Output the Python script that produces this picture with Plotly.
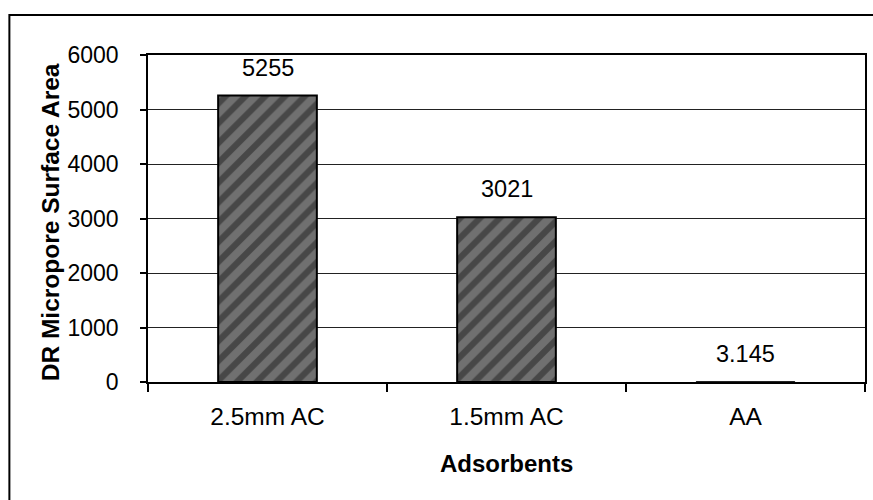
import plotly.graph_objects as go

categories = ["2.5mm AC", "1.5mm AC", "AA"]
values = [5255, 3021, 3.145]
value_labels = ["5255", "3021", "3.145"]
y_ticks = [0, 1000, 2000, 3000, 4000, 5000, 6000]

FONT = "Liberation Sans, Arial, sans-serif"
W, H = 873, 500
ML, MR, MT, MB = 148, 6, 55, 118
PW = W - ML - MR
PH = H - MT - MB

def px_x(px):
    return (px - ML) / PW

def px_y(py):
    return (H - MB - py) / PH

fig = go.Figure()
fig.add_trace(go.Bar(
    x=categories, y=values,
    marker=dict(
        color="#5a5a5a",
        line=dict(color="black", width=[2, 2, 1]),
        pattern=dict(shape="/", fgcolor="#1e1e1e", bgcolor="#707070", size=14, solidity=0.45),
    ),
    showlegend=False,
))

for c, v, t in zip(categories, values, value_labels):
    fig.add_annotation(x=c, y=v, text=t, showarrow=False, yshift=28,
                       xanchor="center", yanchor="middle",
                       font=dict(family=FONT, size=23.5, color="black"))

fig.add_annotation(xref="paper", yref="paper", x=px_x(50), y=px_y(222), text="<b>DR Micropore Surface Area</b>",
                   textangle=-90, showarrow=False, xanchor="center", yanchor="middle",
                   font=dict(family=FONT, size=24.5, color="black"))
fig.add_annotation(xref="paper", yref="paper", x=0.5, y=px_y(463), text="<b>Adsorbents</b>",
                   showarrow=False, xanchor="center", yanchor="middle",
                   font=dict(family=FONT, size=24, color="black"))

fig.add_shape(type="rect", xref="paper", yref="paper", x0=px_x(9), x1=px_x(890), y0=px_y(520), y1=px_y(15),
              line=dict(color="black", width=2), layer="below")

fig.update_layout(
    width=W, height=H,
    margin=dict(l=ML, r=MR, t=MT, b=MB),
    paper_bgcolor="white", plot_bgcolor="white",
    bargap=0.587,
    font=dict(family=FONT, size=24, color="black"),
)
fig.update_xaxes(
    showline=True, linecolor="black", linewidth=1.5, mirror=True,
    ticks="outside", tickson="boundaries", ticklen=8, tickcolor="black", tickwidth=1.5,
    showgrid=False, ticklabelstandoff=12,
    tickfont=dict(family=FONT, size=24.5, color="black"),
)
fig.update_yaxes(
    range=[0, 6000], tickvals=y_ticks, ticktext=[str(v) for v in y_ticks],
    showline=True, linecolor="black", linewidth=1.5, mirror=True,
    ticks="outside", ticklen=6, tickcolor="black", tickwidth=1.5,
    showgrid=True, gridcolor="#222222", gridwidth=1,
    zeroline=False, ticklabelstandoff=17,
    tickfont=dict(family=FONT, size=23, color="black"),
)

fig.write_html("out.html")
